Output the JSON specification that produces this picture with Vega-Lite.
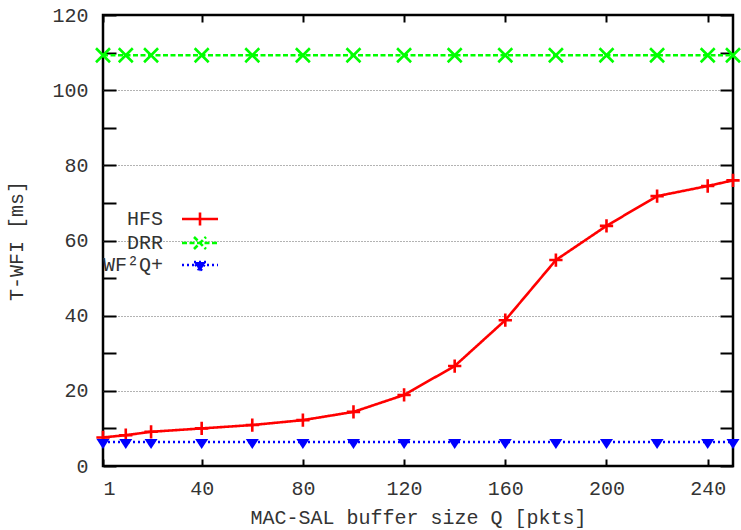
{
  "$schema": "https://vega.github.io/schema/vega-lite/v6.json",
  "width": 630,
  "height": 451,
  "autosize": {"type": "none"},
  "padding": {"left": 103, "top": 15, "right": 8, "bottom": 64},
  "background": "white",
  "config": {
    "font": "Liberation Mono",
    "view": {"stroke": "#000000", "strokeWidth": 2.5},
    "axis": {
      "labelFont": "Liberation Mono",
      "labelFontSize": 20,
      "labelColor": "#333333",
      "titleFont": "Liberation Mono",
      "titleFontSize": 20,
      "titleFontWeight": "normal",
      "titleColor": "#333333",
      "domain": false,
      "tickColor": "#000000",
      "tickWidth": 2
    }
  },
  "data": {
    "values": [
      {"x": 1, "series": "HFS", "y": 7.6},
      {"x": 10, "series": "HFS", "y": 8.2},
      {"x": 20, "series": "HFS", "y": 9.1},
      {"x": 40, "series": "HFS", "y": 10.0},
      {"x": 60, "series": "HFS", "y": 10.9},
      {"x": 80, "series": "HFS", "y": 12.2},
      {"x": 100, "series": "HFS", "y": 14.4},
      {"x": 120, "series": "HFS", "y": 18.9},
      {"x": 140, "series": "HFS", "y": 26.6},
      {"x": 160, "series": "HFS", "y": 38.8},
      {"x": 180, "series": "HFS", "y": 54.8},
      {"x": 200, "series": "HFS", "y": 63.9},
      {"x": 220, "series": "HFS", "y": 71.8},
      {"x": 240, "series": "HFS", "y": 74.5},
      {"x": 250, "series": "HFS", "y": 76.0},
      {"x": 1, "series": "DRR", "y": 109.3},
      {"x": 10, "series": "DRR", "y": 109.3},
      {"x": 20, "series": "DRR", "y": 109.3},
      {"x": 40, "series": "DRR", "y": 109.3},
      {"x": 60, "series": "DRR", "y": 109.3},
      {"x": 80, "series": "DRR", "y": 109.3},
      {"x": 100, "series": "DRR", "y": 109.3},
      {"x": 120, "series": "DRR", "y": 109.3},
      {"x": 140, "series": "DRR", "y": 109.3},
      {"x": 160, "series": "DRR", "y": 109.3},
      {"x": 180, "series": "DRR", "y": 109.3},
      {"x": 200, "series": "DRR", "y": 109.3},
      {"x": 220, "series": "DRR", "y": 109.3},
      {"x": 240, "series": "DRR", "y": 109.3},
      {"x": 250, "series": "DRR", "y": 109.3},
      {"x": 1, "series": "WF²Q+", "y": 6.4},
      {"x": 10, "series": "WF²Q+", "y": 6.4},
      {"x": 20, "series": "WF²Q+", "y": 6.4},
      {"x": 40, "series": "WF²Q+", "y": 6.4},
      {"x": 60, "series": "WF²Q+", "y": 6.4},
      {"x": 80, "series": "WF²Q+", "y": 6.4},
      {"x": 100, "series": "WF²Q+", "y": 6.4},
      {"x": 120, "series": "WF²Q+", "y": 6.4},
      {"x": 140, "series": "WF²Q+", "y": 6.4},
      {"x": 160, "series": "WF²Q+", "y": 6.4},
      {"x": 180, "series": "WF²Q+", "y": 6.4},
      {"x": 200, "series": "WF²Q+", "y": 6.4},
      {"x": 220, "series": "WF²Q+", "y": 6.4},
      {"x": 240, "series": "WF²Q+", "y": 6.4},
      {"x": 250, "series": "WF²Q+", "y": 6.4}
    ]
  },
  "resolve": {"axis": {"x": "independent", "y": "independent"}},
  "layer": [
    {
      "mark": {"type": "line", "strokeWidth": 2.6},
      "encoding": {
        "x": {
          "field": "x", "type": "quantitative",
          "scale": {"domain": [1, 250], "nice": false, "zero": false},
          "axis": {
            "orient": "bottom",
            "values": [1, 40, 80, 120, 160, 200, 240],
            "tickSize": -7,
            "labelPadding": 19,
            "grid": false,
            "title": "MAC-SAL buffer size Q [pkts]",
            "titlePadding": 9
          }
        },
        "y": {
          "field": "y", "type": "quantitative",
          "scale": {"domain": [0, 120], "nice": false, "zero": false},
          "axis": {
            "orient": "left",
            "values": [0, 10, 20, 30, 40, 50, 60, 70, 80, 90, 100, 110, 120],
            "labelExpr": "datum.value % 20 === 0 ? datum.label : ''",
            "tickSize": -13,
            "labelPadding": 28,
            "encode": {"ticks": {"update": {"x2": {"signal": "datum.value % 20 === 0 ? 13 : 7"}}}},
            "grid": true,
            "gridColor": "#666666",
            "gridDash": [1, 2],
            "gridWidth": 1,
            "gridOpacity": {"condition": {"test": "datum.value % 20 === 0 && datum.value > 0 && datum.value < 120", "value": 1}, "value": 0},
            "title": "T-WFI [ms]",
            "titlePadding": 25
          }
        },
        "color": {
          "field": "series", "type": "nominal",
          "scale": {"domain": ["HFS", "DRR", "WF²Q+"], "range": ["#ff0000", "#00ff00", "#0000ff"]},
          "legend": {
            "orient": "none",
            "legendX": 87,
            "legendY": 194,
            "title": null,
            "padding": 0,
            "rowPadding": 0,
            "labelFont": "Liberation Mono",
            "labelFontSize": 20,
            "labelColor": "#333333",
            "labelAlign": "right",
            "labelOffset": -47,
            "symbolSize": 144,
            "symbolStrokeWidth": 2.6,
            "encode": {
              "symbols": {
                "update": {
                  "shape": {"signal": "datum.value === 'HFS' ? 'M-3,0H3M0,-1.1V1.1' : datum.value === 'DRR' ? 'M-3,0H3M-1,-1L1,1M-1,1L1,-1' : 'M-3,0H3M-1,-0.5L1,-0.5L0,1.1Z'"},
                  "strokeDash": {"signal": "datum.value === 'HFS' ? [1,0] : datum.value === 'DRR' ? [5,2.5] : [2,3]"},
                  "fill": {"signal": "datum.value === 'WF²Q+' ? '#0000ff' : 'transparent'"}
                }
              }
            }
          }
        },
        "strokeDash": {
          "field": "series", "type": "nominal",
          "scale": {"domain": ["HFS", "DRR", "WF²Q+"], "range": [[1, 0], [5, 2.5], [2, 3]]},
          "legend": null
        }
      }
    },
    {
      "transform": [{"filter": "datum.series === 'HFS'"}],
      "mark": {"type": "point", "shape": "M-0.95,0H0.95M0,-0.95V0.95", "filled": false, "size": 196, "strokeWidth": 2.6, "color": "#ff0000", "opacity": 1},
      "encoding": {
        "x": {
          "field": "x", "type": "quantitative",
          "scale": {"domain": [1, 250], "nice": false, "zero": false},
          "axis": {
            "orient": "top",
            "values": [1, 40, 80, 120, 160, 200, 240],
            "tickSize": -7,
            "labels": false,
            "grid": false,
            "title": null
          }
        },
        "y": {
          "field": "y", "type": "quantitative",
          "scale": {"domain": [0, 120], "nice": false, "zero": false},
          "axis": {
            "orient": "right",
            "values": [0, 10, 20, 30, 40, 50, 60, 70, 80, 90, 100, 110, 120],
            "tickSize": -13,
            "labels": false,
            "encode": {"ticks": {"update": {"x2": {"signal": "datum.value % 20 === 0 ? -13 : -7"}}}},
            "grid": false,
            "title": null
          }
        }
      }
    },
    {
      "transform": [{"filter": "datum.series === 'DRR'"}],
      "mark": {"type": "point", "shape": "M-1,-1L1,1M-1,1L1,-1", "filled": false, "size": 196, "strokeWidth": 2.6, "color": "#00ff00", "opacity": 1},
      "encoding": {
        "x": {"field": "x", "type": "quantitative", "scale": {"domain": [1, 250], "nice": false, "zero": false}, "axis": null},
        "y": {"field": "y", "type": "quantitative", "scale": {"domain": [0, 120], "nice": false, "zero": false}, "axis": null}
      }
    },
    {
      "transform": [{"filter": "datum.series === 'WF²Q+'"}],
      "mark": {"type": "point", "shape": "M-0.93,-0.43L0.93,-0.43L0,1Z", "filled": true, "size": 196, "color": "#0000ff", "opacity": 1},
      "encoding": {
        "x": {"field": "x", "type": "quantitative", "scale": {"domain": [1, 250], "nice": false, "zero": false}, "axis": null},
        "y": {"field": "y", "type": "quantitative", "scale": {"domain": [0, 120], "nice": false, "zero": false}, "axis": null}
      }
    }
  ]
}
